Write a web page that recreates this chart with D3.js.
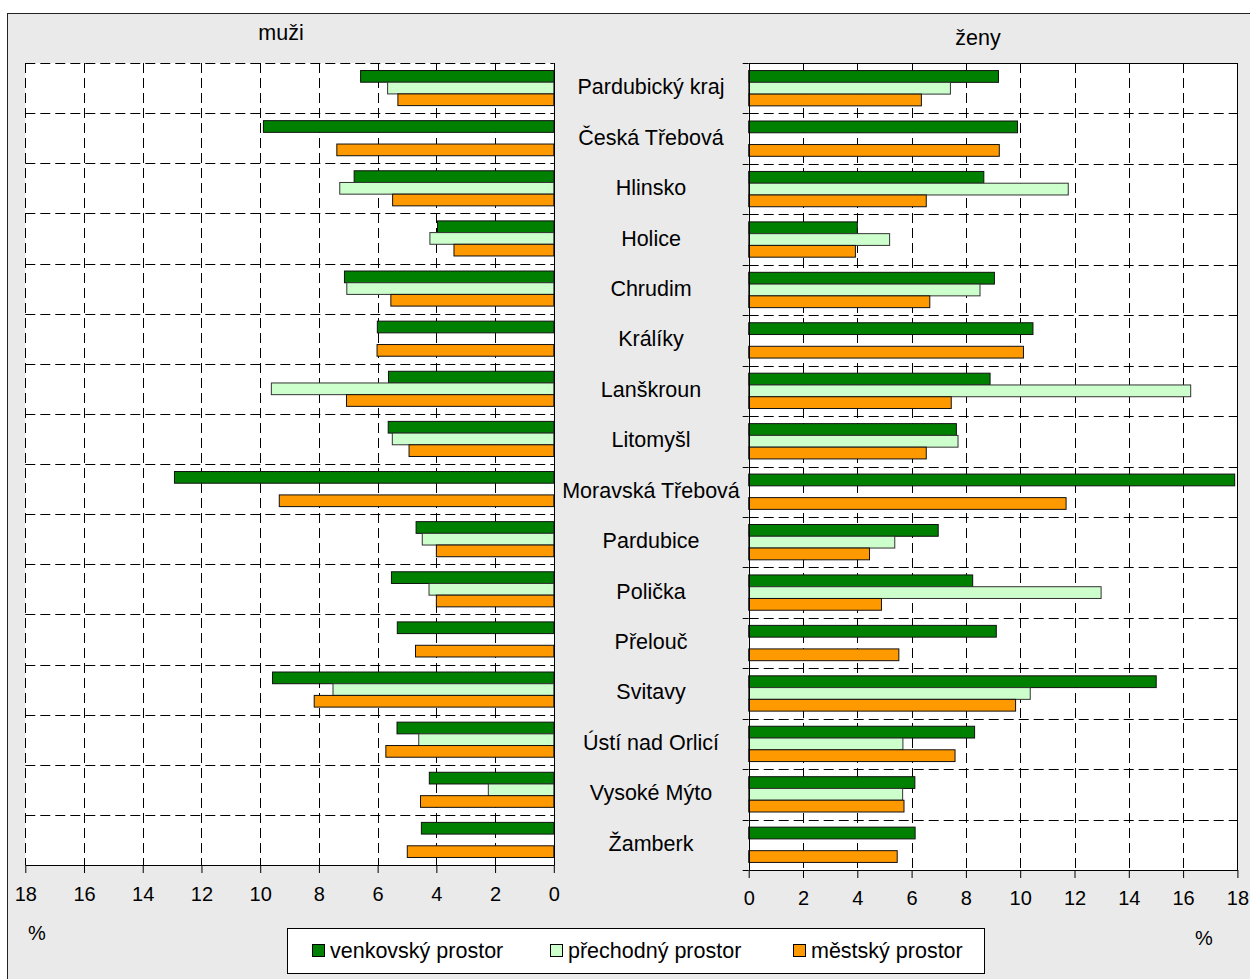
<!DOCTYPE html>
<html>
<head>
<meta charset="utf-8">
<script src="https://cdn.jsdelivr.net/npm/d3@7"></script>
<style>
  html, body { margin: 0; padding: 0; background: #fff; }
  svg { display: block; font-family: "Liberation Sans", Arial, sans-serif; }
</style>
</head>
<body>
<svg id="chart" width="1250" height="979"></svg>
<script>
const categories = ["Pardubický kraj","Česká Třebová","Hlinsko","Holice","Chrudim","Králíky","Lanškroun","Litomyšl","Moravská Třebová","Pardubice","Polička","Přelouč","Svitavy","Ústí nad Orlicí","Vysoké Mýto","Žamberk"];
const seriesNames = ["venkovský prostor","přechodný prostor","městský prostor"];
const seriesColors = ["#008000","#CCFFCC","#FF9900"];
// muži (men)
const menRural      = [6.58, 9.89, 6.80, 3.96, 7.13, 6.01, 5.63, 5.64, 12.92, 4.69, 5.53, 5.33, 9.58, 5.34, 4.24, 4.51];
const menTransition = [5.66, null, 7.29, 4.22, 7.05, null, 9.62, 5.50, null, 4.48, 4.25, null, 7.52, 4.60, 2.23, null];
const menUrban      = [5.31, 7.39, 5.49, 3.40, 5.55, 6.02, 7.06, 4.93, 9.35, 4.00, 4.00, 4.71, 8.16, 5.72, 4.54, 4.99];
// ženy (women)
const womenRural      = [9.20, 9.90, 8.66, 4.00, 9.05, 10.47, 8.89, 7.65, 17.90, 6.98, 8.25, 9.12, 15.01, 8.32, 6.12, 6.13];
const womenTransition = [7.43, null, 11.77, 5.19, 8.52, null, 16.28, 7.71, null, 5.38, 12.98, null, 10.37, 5.68, 5.67, null];
const womenUrban      = [6.36, 9.23, 6.54, 3.93, 6.67, 10.12, 7.46, 6.54, 11.69, 4.45, 4.89, 5.53, 9.83, 7.60, 5.72, 5.47];
const tickValues = [0, 2, 4, 6, 8, 10, 12, 14, 16, 18];
const panelTitles = ["muži", "ženy"];
const unitLabel = "%";

const svg = d3.select("#chart");
const FONT = 21.5;

// outer frame
svg.append("rect").attr("x", 7.5).attr("y", 13.5).attr("width", 1260).attr("height", 1000)
  .attr("fill", "#EAEAEA").attr("stroke", "#222").attr("stroke-width", 1);

function panel(opts) {
  const { x, yTop, yBottom, data, reversed, title, titleX, titleY } = opts;
  const g = svg.append("g");
  const y = d3.scaleBand().domain(categories).range([yTop, yBottom]).paddingInner(0).paddingOuter(0);
  const sub = d3.scaleBand().domain(seriesNames).range([0, y.bandwidth()]).paddingInner(0).paddingOuter(0.643);
  const x0 = x(0), x18 = x(18);
  const left = Math.min(x0, x18), right = Math.max(x0, x18);

  g.append("rect").attr("x", left).attr("y", yTop).attr("width", right - left).attr("height", yBottom - yTop)
    .attr("fill", "#fff");

  g.selectAll(".vg").data(tickValues.filter(v => v > 0 && v < 18)).enter().append("line")
    .attr("x1", d => Math.round(x(d)) + 0.5).attr("x2", d => Math.round(x(d)) + 0.5)
    .attr("y1", yTop).attr("y2", yBottom)
    .attr("stroke", "#000").attr("stroke-width", 1).attr("stroke-dasharray", "10,5");
  g.selectAll(".hg").data(categories.slice(1)).enter().append("line")
    .attr("x1", left).attr("x2", right)
    .attr("y1", d => Math.round(y(d)) + 0.5).attr("y2", d => Math.round(y(d)) + 0.5)
    .attr("stroke", "#000").attr("stroke-width", 1).attr("stroke-dasharray", "10,5");

  if (reversed) {
    g.append("line").attr("x1", left).attr("x2", right).attr("y1", yTop + 0.5).attr("y2", yTop + 0.5)
      .attr("stroke", "#000").attr("stroke-dasharray", "10,5");
    g.append("line").attr("x1", Math.round(left) + 0.5).attr("x2", Math.round(left) + 0.5).attr("y1", yTop).attr("y2", yBottom)
      .attr("stroke", "#000").attr("stroke-dasharray", "10,5");
  } else {
    g.append("line").attr("x1", left).attr("x2", right).attr("y1", yTop + 0.5).attr("y2", yTop + 0.5)
      .attr("stroke", "#000");
    g.append("line").attr("x1", Math.round(right) + 0.5).attr("x2", Math.round(right) + 0.5).attr("y1", yTop).attr("y2", yBottom)
      .attr("stroke", "#000");
    const bounds = categories.map(c => y(c)).concat([yBottom]);
    g.selectAll(".ct").data(bounds).enter().append("line")
      .attr("x1", x0 - 6).attr("x2", x0)
      .attr("y1", d => Math.round(d) + 0.5).attr("y2", d => Math.round(d) + 0.5)
      .attr("stroke", "#000");
  }

  const series = [data[0], data[1], data[2]];
  series.forEach((vals, si) => {
    g.selectAll(".bar" + si).data(categories.map((c, i) => ({ c, v: vals[i] })).filter(d => d.v != null && d.v > 0))
      .enter().append("rect")
      .attr("x", d => Math.min(x(0), x(d.v)))
      .attr("y", d => y(d.c) + sub(seriesNames[si]))
      .attr("width", d => Math.abs(x(d.v) - x(0)))
      .attr("height", sub.bandwidth())
      .attr("fill", seriesColors[si])
      .attr("stroke", si === 1 ? "#333" : "#111")
      .attr("stroke-width", 1);
  });

  g.append("line").attr("x1", Math.round(x0) + 0.5).attr("x2", Math.round(x0) + 0.5).attr("y1", yTop).attr("y2", yBottom)
    .attr("stroke", "#000");

  const ax = g.append("g").attr("transform", `translate(0,${yBottom})`)
    .call(d3.axisBottom(x).tickValues(tickValues).tickSize(8).tickPadding(opts.tickPad).tickSizeOuter(0));
  ax.select(".domain").attr("stroke", "#000");
  ax.selectAll(".tick line").attr("stroke", "#000");
  ax.selectAll(".tick text").attr("font-size", 20).attr("fill", "#000")
    .attr("font-family", "'Liberation Sans', Arial, sans-serif");

  svg.append("text").attr("x", titleX).attr("y", titleY).attr("text-anchor", "middle")
    .attr("dominant-baseline", "central").attr("font-size", FONT).text(title);
  return y;
}

const xLeft = d3.scaleLinear().domain([0, 18]).range([553.8, 25.3]);
const xRight = d3.scaleLinear().domain([0, 18]).range([748.7, 1237.4]);

panel({ x: xLeft, yTop: 63, yBottom: 865, data: [menRural, menTransition, menUrban], reversed: true,
        title: panelTitles[0], titleX: 281, titleY: 33, tickPad: 14 });
const yR = panel({ x: xRight, yTop: 63, yBottom: 870, data: [womenRural, womenTransition, womenUrban], reversed: false,
        title: panelTitles[1], titleX: 978, titleY: 38, tickPad: 13 });

svg.selectAll(".cat").data(categories).enter().append("text")
  .attr("x", 651).attr("y", d => yR(d) + yR.bandwidth() / 2 - 1)
  .attr("text-anchor", "middle").attr("dominant-baseline", "central")
  .attr("font-size", FONT).attr("fill", "#000").text(d => d);

svg.append("text").attr("x", 37).attr("y", 933).attr("text-anchor", "middle").attr("dominant-baseline", "central")
  .attr("font-size", 20).text(unitLabel);
svg.append("text").attr("x", 1204).attr("y", 938).attr("text-anchor", "middle").attr("dominant-baseline", "central")
  .attr("font-size", 20).text(unitLabel);

const lg = svg.append("g");
lg.append("rect").attr("x", 287.5).attr("y", 928.5).attr("width", 697).attr("height", 45)
  .attr("fill", "#fff").attr("stroke", "#000");
const legendX = [312, 550, 793];
seriesNames.forEach((s, i) => {
  lg.append("rect").attr("x", legendX[i] + 0.5).attr("y", 944.5).attr("width", 12).attr("height", 12)
    .attr("fill", seriesColors[i]).attr("stroke", "#000");
  lg.append("text").attr("x", legendX[i] + 18).attr("y", 951).attr("dominant-baseline", "central")
    .attr("font-size", FONT).attr("fill", "#000").text(s);
});
</script>
</body>
</html>
